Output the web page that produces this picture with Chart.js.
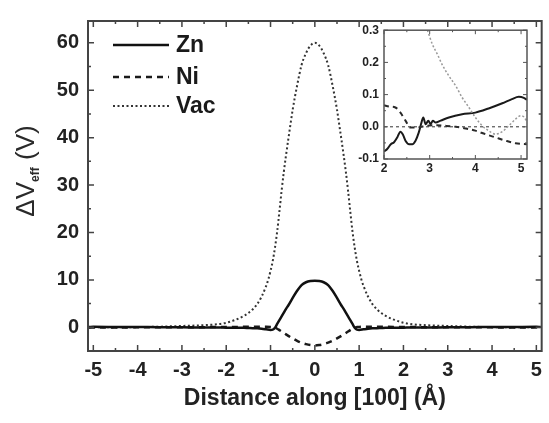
<!DOCTYPE html>
<html>
<head>
<meta charset="utf-8">
<script src="https://cdn.jsdelivr.net/npm/chart.js@4.4.0/dist/chart.umd.min.js"></script>
<style>
html, body { margin: 0; padding: 0; background: #fff; }
#wrap { position: relative; width: 549px; height: 423px; }
#main { position: absolute; left: 0; top: 0; }
#inset { position: absolute; left: 340px; top: 18px; }
</style>
</head>
<body>
<div id="wrap">
  <canvas id="main" width="549" height="423"></canvas>
  <canvas id="inset" width="200" height="160"></canvas>
</div>
<script>
// distance along [100] (Å), main panel (Zn, Ni)
const xMain = [-5.1, -5, -4.5, -4, -3.5, -3, -2.5, -2.2, -2, -1.8, -1.6, -1.5, -1.4, -1.3, -1.2, -1.1, -1, -0.95, -0.9, -0.85,
  -0.8, -0.75, -0.7, -0.65, -0.6, -0.5, -0.4, -0.3, -0.2, -0.1, 0,
  0.1, 0.2, 0.3, 0.4, 0.5, 0.6, 0.65, 0.7, 0.75, 0.8, 0.85, 0.9, 0.95, 1, 1.1, 1.2, 1.3, 1.4, 1.5, 1.6,
  1.8, 2, 2.2, 2.5, 3, 3.5, 4, 4.5, 5, 5.1];

// ΔVeff (V)
const znMain = [0.085, 0.092, 0.068, 0.044, 0.03, 0.01, -0.05, -0.05, -0.08, -0.1, -0.12, -0.15, -0.18, -0.22, -0.3, -0.42, -0.55, -0.5, -0.1, 0.7,
  1.5, 2.3, 3.1, 3.9, 4.6, 6.2, 7.7, 8.9, 9.5, 9.75, 9.8,
  9.75, 9.5, 8.9, 7.7, 6.2, 4.6, 3.9, 3.1, 2.3, 1.5, 0.7, -0.1, -0.5, -0.55, -0.42, -0.3, -0.22, -0.18, -0.15, -0.12,
  -0.1, -0.08, -0.05, -0.05, 0.01, 0.03, 0.044, 0.068, 0.092, 0.085];
const niMain = [-0.055, -0.05, -0.037, -0.012, 0, 0.005, 0.02, 0.062, 0.067, 0.08, 0.1, 0.12, 0.13, 0.14, 0.14, 0.12, 0.08, 0.04, -0.05, -0.3,
  -0.6, -0.9, -1.2, -1.5, -1.8, -2.35, -2.85, -3.25, -3.55, -3.75, -3.85,
  -3.75, -3.55, -3.25, -2.85, -2.35, -1.8, -1.5, -1.2, -0.9, -0.6, -0.3, -0.05, 0.04, 0.08, 0.12, 0.14, 0.14, 0.13, 0.12, 0.1,
  0.08, 0.067, 0.062, 0.02, 0.005, 0, -0.012, -0.037, -0.05, -0.055];

// vacancy curve has its own, finer grid round the peak
const xVac = [-5.1, -5, -4.5, -4, -3.5, -3, -2.5, -2.2, -2, -1.8, -1.6, -1.5, -1.4, -1.3, -1.2,
  -1.1, -1.05, -1, -0.95, -0.9, -0.85, -0.8, -0.75, -0.7, -0.65, -0.6, -0.55, -0.5, -0.4, -0.3, -0.2, -0.1, 0,
  0.1, 0.2, 0.3, 0.4, 0.5, 0.55, 0.6, 0.65, 0.7, 0.75, 0.8, 0.85, 0.9, 0.95, 1, 1.05, 1.1,
  1.2, 1.3, 1.4, 1.5, 1.6, 1.8, 2, 2.2, 2.5, 3, 3.5, 4, 4.5, 5, 5.1];
const vacMain = [0.02, 0.03, -0.02, 0.03, 0.13, 0.28, 0.45, 0.65, 0.95, 1.55, 2.4, 3.0, 3.8, 4.9, 6.5,
  8.7, 10.1, 11.9, 14.0, 16.8, 20.2, 24.4, 28.8, 32.8, 36.3, 39.6, 42.8, 45.9, 51.0, 55.3, 57.8, 59.4, 60.0,
  59.4, 57.8, 55.3, 51.0, 45.9, 42.8, 39.6, 36.3, 32.8, 28.8, 24.4, 20.2, 16.8, 14.0, 11.9, 10.1, 8.7,
  6.5, 4.9, 3.8, 3.0, 2.4, 1.55, 0.95, 0.65, 0.45, 0.28, 0.13, 0.03, -0.02, 0.03, 0.02];

const seriesNames = ['Zn', 'Ni', 'Vac'];
const xTicks = [-5, -4, -3, -2, -1, 0, 1, 2, 3, 4, 5];
const yTicks = [0, 10, 20, 30, 40, 50, 60];

// inset (zoom on 2..5 Å)
const znInsetX = [2.0, 2.07, 2.15, 2.22, 2.29, 2.36, 2.41, 2.47, 2.55, 2.62, 2.69, 2.76, 2.82, 2.86, 2.91, 2.97, 3.02, 3.07, 3.13, 3.24,
  3.42, 3.71, 4.0, 4.29, 4.59, 4.8, 4.95, 5.06, 5.13];
const znInsetY = [-0.077, -0.069, -0.054, -0.048, -0.033, -0.015, -0.023, -0.043, -0.054, -0.054, -0.043, -0.018, 0.013, 0.029, 0.008, 0.019, 0.008, 0.019, 0.013, 0.019,
  0.029, 0.039, 0.044, 0.057, 0.073, 0.086, 0.093, 0.09, 0.084];
const niInsetX = [2.0, 2.11, 2.25, 2.36, 2.47, 2.58, 2.73, 2.91, 3.13, 3.35, 3.57, 3.78, 4.0, 4.22, 4.44, 4.66, 4.88, 5.13];
const niInsetY = [0.067, 0.063, 0.06, 0.044, 0.019, -0.002, -0.002, 0.003, 0.005, 0.003, 0.0, -0.005, -0.012, -0.023, -0.033, -0.043, -0.051, -0.054];
const vacInsetX = [2.95, 3.06, 3.17, 3.27, 3.42, 3.57, 3.71, 3.86, 4.0, 4.15, 4.29, 4.44, 4.59, 4.73, 4.88, 4.99, 5.06, 5.13];
const vacInsetY = [0.3, 0.256, 0.225, 0.194, 0.158, 0.127, 0.091, 0.06, 0.029, 0.003, -0.012, -0.023, -0.015, 0.003, 0.024, 0.034, 0.031, 0.015];
const zeroLineX = [2, 5.13];
const zeroLineY = [0, 0];
const insetXTicks = [2, 3, 4, 5];
const insetYTicks = [-0.1, 0, 0.1, 0.2, 0.3];

const FAM = "'Liberation Sans', Arial, Helvetica, sans-serif";
Chart.defaults.font.family = FAM;

function pts(xs, ys) {
  return xs.map((x, i) => ({ x: x, y: ys[i] }));
}

// box round the plot area with inward ticks on all four sides
const framePlugin = {
  id: 'frame',
  afterDraw(chart, args, o) {
    const ctx = chart.ctx;
    const a = chart.chartArea;
    const sx = chart.scales.x, sy = chart.scales.y;
    ctx.save();
    ctx.strokeStyle = o.color;
    ctx.lineWidth = o.width;
    ctx.strokeRect(a.left, a.top, a.right - a.left, a.bottom - a.top);
    ctx.lineWidth = o.tickWidth;
    ctx.beginPath();
    for (let i = Math.ceil(sx.min / o.xMinor - 1e-9); i * o.xMinor <= sx.max + 1e-9; i++) {
      const v = i * o.xMinor;
      const major = Math.abs(v / o.xMajor - Math.round(v / o.xMajor)) < 1e-6;
      const len = major ? o.major : o.minor;
      const p = sx.getPixelForValue(v);
      ctx.moveTo(p, a.bottom); ctx.lineTo(p, a.bottom - len);
      ctx.moveTo(p, a.top); ctx.lineTo(p, a.top + len);
    }
    for (let i = Math.ceil(sy.min / o.yMinor - 1e-9); i * o.yMinor <= sy.max + 1e-9; i++) {
      const v = i * o.yMinor;
      const major = Math.abs(v / o.yMajor - Math.round(v / o.yMajor)) < 1e-6;
      const len = major ? o.major : o.minor;
      const p = sy.getPixelForValue(v);
      ctx.moveTo(a.left, p); ctx.lineTo(a.left + len, p);
      ctx.moveTo(a.right, p); ctx.lineTo(a.right - len, p);
    }
    ctx.stroke();
    ctx.restore();
  }
};

// legend drawn inside the plot, top left
const insideLegend = {
  id: 'insideLegend',
  afterDraw(chart, args, o) {
    const ctx = chart.ctx;
    ctx.save();
    chart.data.datasets.forEach((ds, i) => {
      const y = o.rows[i];
      ctx.strokeStyle = ds.borderColor;
      ctx.lineWidth = ds.borderWidth;
      ctx.setLineDash(ds.borderDash || []);
      ctx.beginPath();
      ctx.moveTo(o.x1, y);
      ctx.lineTo(o.x2, y);
      ctx.stroke();
      ctx.setLineDash([]);
      ctx.fillStyle = '#1a1a1a';
      ctx.font = 'bold 23px ' + FAM;
      ctx.textBaseline = 'middle';
      ctx.fillText(ds.label, o.textX, y + 1);
    });
    ctx.restore();
  }
};

// y title with the "eff" subscript
const yTitle = {
  id: 'yTitle',
  afterDraw(chart, args, o) {
    const ctx = chart.ctx;
    ctx.save();
    ctx.translate(o.x, o.y);
    ctx.rotate(-Math.PI / 2);
    ctx.fillStyle = '#2a2a2a';
    ctx.textBaseline = 'alphabetic';
    const big = '26px ' + FAM, small = 'bold 12px ' + FAM;
    ctx.font = big;
    const w1 = ctx.measureText('\u0394V').width;
    const w3 = ctx.measureText(' (V)').width;
    ctx.font = small;
    const w2 = ctx.measureText('eff').width;
    let x = -(w1 + w2 + w3) / 2;
    const base = 9;
    ctx.font = big;
    ctx.fillText('\u0394V', x, base);
    x += w1;
    ctx.font = small;
    ctx.fillText('eff', x, base + 5);
    x += w2;
    ctx.font = big;
    ctx.fillText(' (V)', x, base);
    ctx.restore();
  }
};

const whiteArea = {
  id: 'whiteArea',
  beforeDraw(chart) {
    const a = chart.chartArea;
    chart.ctx.save();
    chart.ctx.fillStyle = '#fff';
    chart.ctx.fillRect(a.left, a.top, a.right - a.left, a.bottom - a.top);
    chart.ctx.restore();
  }
};

new Chart(document.getElementById('main'), {
  type: 'line',
  data: {
    datasets: [
      { label: seriesNames[0], data: pts(xMain, znMain), borderColor: '#111', borderWidth: 2.5, pointRadius: 0, cubicInterpolationMode: 'monotone' },
      { label: seriesNames[1], data: pts(xMain, niMain), borderColor: '#1a1a1a', borderWidth: 2.5, borderDash: [6, 5], pointRadius: 0, cubicInterpolationMode: 'monotone' },
      { label: seriesNames[2], data: pts(xVac, vacMain), borderColor: '#333', borderWidth: 2, borderDash: [2, 2.5], pointRadius: 0, cubicInterpolationMode: 'monotone' }
    ]
  },
  options: {
    responsive: false,
    animation: false,
    devicePixelRatio: 1,
    layout: { padding: { top: 9, right: 7, left: 0, bottom: 0 } },
    plugins: {
      legend: { display: false },
      tooltip: { enabled: false },
      frame: { color: '#444', width: 2, tickWidth: 1.5, xMajor: 1, xMinor: 0.5, yMajor: 10, yMinor: 5, major: 6, minor: 3 },
      insideLegend: { rows: [45, 77, 106], x1: 113, x2: 169, textX: 176 },
      yTitle: { x: 25, y: 171 }
    },
    scales: {
      x: {
        type: 'linear', min: -5.12, max: 5.12,
        afterBuildTicks: s => { s.ticks = xTicks.map(v => ({ value: v })); },
        afterFit: s => { s.height = 72; },
        grid: { display: false, drawTicks: false },
        border: { display: false },
        ticks: { padding: 7, color: '#222', font: { size: 20, weight: 'bold' }, maxRotation: 0, autoSkip: false },
        title: { display: true, text: 'Distance along [100] (Å)', color: '#222', font: { size: 23, weight: 'bold' }, padding: { top: 0, bottom: 11 } }
      },
      y: {
        type: 'linear', min: -5, max: 64.6,
        afterBuildTicks: s => { s.ticks = yTicks.map(v => ({ value: v })); },
        afterFit: s => { s.width = 88; },
        grid: { display: false, drawTicks: false },
        border: { display: false },
        ticks: { padding: 9, color: '#222', font: { size: 20, weight: 'bold' }, autoSkip: false }
      }
    }
  },
  plugins: [framePlugin, insideLegend, yTitle]
});

new Chart(document.getElementById('inset'), {
  type: 'line',
  data: {
    datasets: [
      { label: 'zero', data: pts(zeroLineX, zeroLineY), borderColor: '#333', borderWidth: 1, borderDash: [3, 3], pointRadius: 0 },
      { label: seriesNames[2], data: pts(vacInsetX, vacInsetY), borderColor: '#9a9a9a', borderWidth: 1.5, borderDash: [2, 2], pointRadius: 0, cubicInterpolationMode: 'monotone' },
      { label: seriesNames[1], data: pts(niInsetX, niInsetY), borderColor: '#2a2a2a', borderWidth: 2, borderDash: [5, 4], pointRadius: 0, cubicInterpolationMode: 'monotone' },
      { label: seriesNames[0], data: pts(znInsetX, znInsetY), borderColor: '#1a1a1a', borderWidth: 2, pointRadius: 0, cubicInterpolationMode: 'monotone' }
    ]
  },
  options: {
    responsive: false,
    animation: false,
    devicePixelRatio: 1,
    layout: { padding: { top: 11, right: 13, left: 0, bottom: 0 } },
    plugins: {
      legend: { display: false },
      tooltip: { enabled: false },
      frame: { color: '#555', width: 1.5, tickWidth: 1, xMajor: 1, xMinor: 0.5, yMajor: 0.1, yMinor: 0.05, major: 4, minor: 2 }
    },
    scales: {
      x: {
        type: 'linear', min: 2, max: 5.13,
        afterBuildTicks: s => { s.ticks = insetXTicks.map(v => ({ value: v })); },
        afterFit: s => { s.height = 19; },
        grid: { display: false, drawTicks: false },
        border: { display: false },
        ticks: { padding: 2, color: '#222', font: { size: 12, weight: 'bold' }, maxRotation: 0, autoSkip: false }
      },
      y: {
        type: 'linear', min: -0.1, max: 0.3,
        afterBuildTicks: s => { s.ticks = insetYTicks.map(v => ({ value: v })); },
        afterFit: s => { s.width = 44; },
        grid: { display: false, drawTicks: false },
        border: { display: false },
        ticks: { padding: 5, color: '#222', font: { size: 12, weight: 'bold' }, autoSkip: false, callback: v => v.toFixed(1) }
      }
    }
  },
  plugins: [whiteArea, framePlugin]
});
</script>
</body>
</html>
